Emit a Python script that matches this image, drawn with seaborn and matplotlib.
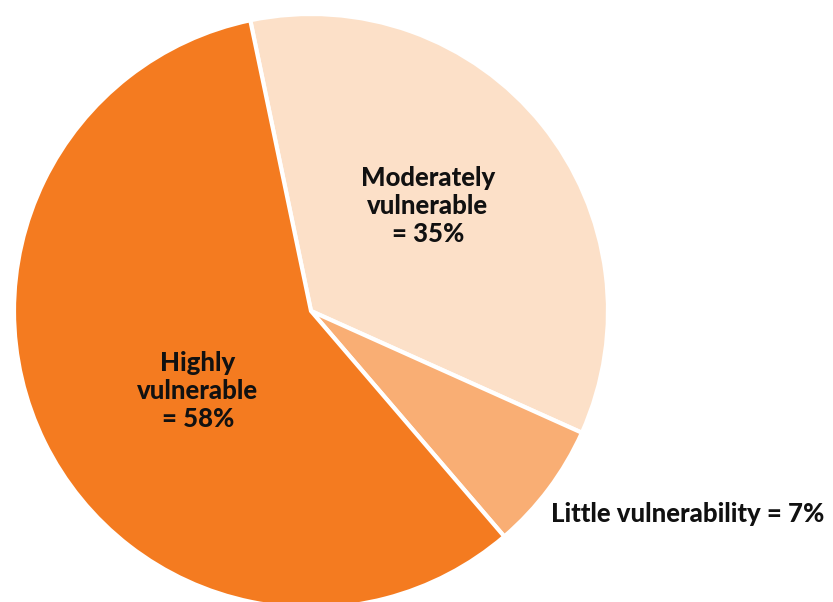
import matplotlib
matplotlib.use("Agg")
import matplotlib.pyplot as plt
import seaborn as sns

categories = ["Moderately vulnerable", "Little vulnerability", "Highly vulnerable"]
values = [35, 7, 58]
labels = ["Moderately\nvulnerable\n= 35%", "Little vulnerability = 7%", "Highly\nvulnerable\n= 58%"]
colors = ["#FCE0C8", "#F9AE74", "#F47B20"]

sns.set_theme(style="white")
plt.rcParams["font.family"] = ["Lato", "DejaVu Sans"]

W, H = 833, 602
fig = plt.figure(figsize=(W / 100, H / 100), dpi=100)
cx, cy, r = 311, 311, 297
ax = fig.add_axes([(cx - r) / W, (H - cy - r) / H, 2 * r / W, 2 * r / H])
wedges, _ = ax.pie(values, colors=sns.color_palette(colors), startangle=101.8,
                   counterclock=False, radius=1,
                   wedgeprops=dict(edgecolor="white", linewidth=3))
for w in wedges:
    w.set_clip_on(False)
ax.set_xlim(-1, 1)
ax.set_ylim(-1, 1)
ax.set_aspect("equal")
ax.axis("off")

def pos(px, py):
    return (px - cx) / r, (cy - py) / r

tkw = dict(ha="center", va="center", fontsize=18.5, fontweight="black",
           color="#111111", linespacing=1.2)
ax.text(*pos(428, 206), labels[0], **tkw)
ax.text(*pos(198, 391), labels[2], **tkw)
ax.text(*pos(688, 514), labels[1], clip_on=False, **tkw)

fig.savefig("out.png", dpi=100)
